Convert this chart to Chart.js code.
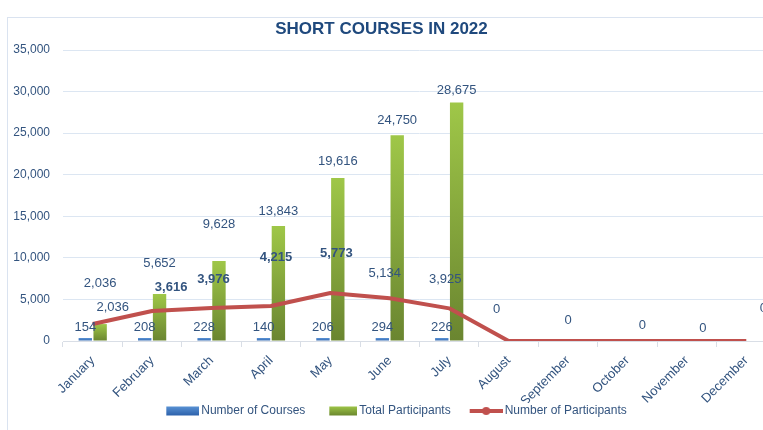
<!DOCTYPE html>
<html>
<head>
<meta charset="utf-8">
<script src="https://cdn.jsdelivr.net/npm/chart.js@4.4.0/dist/chart.umd.min.js"></script>
<style>
  html, body { margin: 0; padding: 0; background: #fff; overflow: hidden; }
  #frame { position: absolute; left: 7px; top: 17px; width: 820px; height: 440px; border: 1px solid #dae3f0; }
  #title { position: absolute; left: 0; top: 19px; width: 763px; text-align: center;
           font: bold 17px 'Liberation Sans', Arial, sans-serif; color: #1f497d; }
  #wrap { position: absolute; left: 0; top: 0; width: 790px; height: 430px; }
</style>
</head>
<body>
<div id="frame"></div>
<div id="wrap"><canvas id="courses-chart"></canvas></div>
<div id="title">SHORT COURSES IN 2022</div>
<script>
// Chart data
const months = ['January', 'February', 'March', 'April', 'May', 'June', 'July',
                'August', 'September', 'October', 'November', 'December'];
const numberOfCourses = [154, 208, 228, 140, 206, 294, 226, null, null, null, null, null];
const totalParticipants = [2036, 5652, 9628, 13843, 19616, 24750, 28675, null, null, null, null, null];
const numberOfParticipants = [2036, 3616, 3976, 4215, 5773, 5134, 3925, 0, 0, 0, 0, 0];
const yTicks = [0, 5000, 10000, 15000, 20000, 25000, 30000, 35000];

// Label placement (pixels), picked to match the original layout
const totalLabelLift = [41, 31, 37, 14, 16, 15, 12];
const lineLabelShift = [[20, -17], [19, -24], [2, -29], [5, -49], [6, -40], [-5, -25],
                        [-4, -29], [-12, -32], [0, -21], [15, -16], [16, -13], [17, -33]];
const boldLineLabels = [1, 2, 3, 4];

const FONT = "'Liberation Sans', Arial, sans-serif";
const TEXT = '#33547f';

function fmt(v) {
    return v.toLocaleString('en-US');
}

// Vertical gradient for each bar
function barFill(light, dark) {
    return function(context) {
        const chart = context.chart;
        const y = chart.scales.y;
        if (!chart.chartArea || !y || !context.parsed || !isFinite(context.parsed.y)) return dark;
        const top = Math.min(y.getPixelForValue(context.parsed.y), y.getPixelForValue(0) - 3);
        const base = y.getPixelForValue(0);
        if (!isFinite(top) || !isFinite(base)) return dark;
        const g = chart.ctx.createLinearGradient(0, top, 0, Math.max(base, top + 1));
        g.addColorStop(0, light);
        g.addColorStop(1, dark);
        return g;
    };
}

// Legend icons: the image is a bit wider than the legend box so the icon sits
// close to its text, with an empty gap before it
const BOX_W = 46;
const IMG_W = BOX_W + 8;
function makeIcon(draw) {
    const c = document.createElement('canvas');
    c.width = IMG_W;
    c.height = 10;
    draw(c.getContext('2d'));
    return c;
}
function rectIcon(w, light, dark) {
    return makeIcon(function(ctx) {
        const g = ctx.createLinearGradient(0, 0, 0, 9);
        g.addColorStop(0, light);
        g.addColorStop(1, dark);
        ctx.fillStyle = g;
        ctx.fillRect(IMG_W - w, 0.5, w, 9);
    });
}
const legendIcons = [
    rectIcon(33, '#5b94d6', '#2f64ad'),
    rectIcon(28, '#9fc748', '#6e8b30'),
    makeIcon(function(ctx) {
        const x0 = IMG_W - 33;
        ctx.strokeStyle = '#c0504d';
        ctx.lineWidth = 4;
        ctx.beginPath();
        ctx.moveTo(x0, 5);
        ctx.lineTo(IMG_W, 5);
        ctx.stroke();
        ctx.fillStyle = '#c0504d';
        ctx.beginPath();
        ctx.arc(x0 + 16.5, 5, 4, 0, Math.PI * 2);
        ctx.fill();
    })
];

// Draws the value labels
const valueLabels = {
    id: 'valueLabels',
    afterDatasetsDraw(chart) {
        const ctx = chart.ctx;
        ctx.save();
        ctx.textAlign = 'center';
        ctx.textBaseline = 'middle';
        ctx.fillStyle = TEXT;

        ctx.font = '13px ' + FONT;
        chart.getDatasetMeta(0).data.forEach(function(bar, i) {
            if (numberOfCourses[i] == null) return;
            ctx.fillText(fmt(numberOfCourses[i]), bar.x, bar.y - 11);
        });

        chart.getDatasetMeta(1).data.forEach(function(bar, i) {
            if (totalParticipants[i] == null) return;
            ctx.fillText(fmt(totalParticipants[i]), bar.x, bar.y - totalLabelLift[i]);
        });

        chart.getDatasetMeta(2).data.forEach(function(pt, i) {
            if (numberOfParticipants[i] == null) return;
            const shift = lineLabelShift[i];
            ctx.font = (boldLineLabels.includes(i) ? 'bold ' : '') + '13px ' + FONT;
            ctx.fillText(fmt(numberOfParticipants[i]), pt.x + shift[0], pt.y + shift[1]);
        });
        ctx.restore();
    }
};

const ctx = document.getElementById('courses-chart').getContext('2d');
const chart = new Chart(ctx, {
    type: 'bar',
    data: {
        labels: months,
        datasets: [
            {
                label: 'Number of Courses',
                data: numberOfCourses,
                backgroundColor: barFill('#5b94d6', '#2f64ad'),
                categoryPercentage: 0.5,
                barPercentage: 0.9,
                minBarLength: 3,
                order: 1
            },
            {
                label: 'Total Participants',
                data: totalParticipants,
                backgroundColor: barFill('#9fc748', '#6a8530'),
                categoryPercentage: 0.5,
                barPercentage: 0.9,
                order: 2
            },
            {
                type: 'line',
                label: 'Number of Participants',
                data: numberOfParticipants,
                borderColor: '#c0504d',
                backgroundColor: '#c0504d',
                borderWidth: 4,
                pointRadius: 0,
                tension: 0,
                borderJoinStyle: 'round',
                order: 0
            }
        ]
    },
    options: {
        responsive: true,
        maintainAspectRatio: false,
        animation: false,
        layout: {
            padding: { top: 50, right: 14, bottom: 3, left: 0 }
        },
        plugins: {
            title: { display: false },
            tooltip: { enabled: false },
            legend: {
                position: 'bottom',
                labels: {
                    usePointStyle: true,
                    pointStyleWidth: BOX_W,
                    boxHeight: 10,
                    padding: 2,
                    color: TEXT,
                    font: { family: FONT, size: 12 },
                    sort: function(a, b) { return a.datasetIndex - b.datasetIndex; },
                    generateLabels: function(chart) {
                        const items = Chart.defaults.plugins.legend.labels.generateLabels(chart);
                        items.forEach(function(item) {
                            item.pointStyle = legendIcons[item.datasetIndex];
                        });
                        return items;
                    }
                }
            }
        },
        scales: {
            x: {
                offset: true,
                grid: {
                    offset: true,
                    drawOnChartArea: false,
                    drawTicks: true,
                    tickLength: 6,
                    color: '#d9dee6'
                },
                border: { display: true, color: '#d9dee6' },
                ticks: {
                    minRotation: 45,
                    maxRotation: 45,
                    autoSkip: false,
                    padding: 6,
                    color: TEXT,
                    font: { family: FONT, size: 13 }
                },
                afterFit: function(scale) { scale.height = 62; }
            },
            y: {
                min: 0,
                max: 35000,
                afterBuildTicks: function(scale) {
                    scale.ticks = yTicks.map(function(v) { return { value: v }; });
                },
                grid: { color: '#dce6f2', drawTicks: false },
                border: { display: false },
                ticks: {
                    padding: 13,
                    color: TEXT,
                    font: { family: FONT, size: 12 },
                    callback: function(value) { return fmt(value); }
                },
                afterFit: function(scale) { scale.width = 63; }
            }
        }
    },
    plugins: [valueLabels]
});
</script>
</body>
</html>
